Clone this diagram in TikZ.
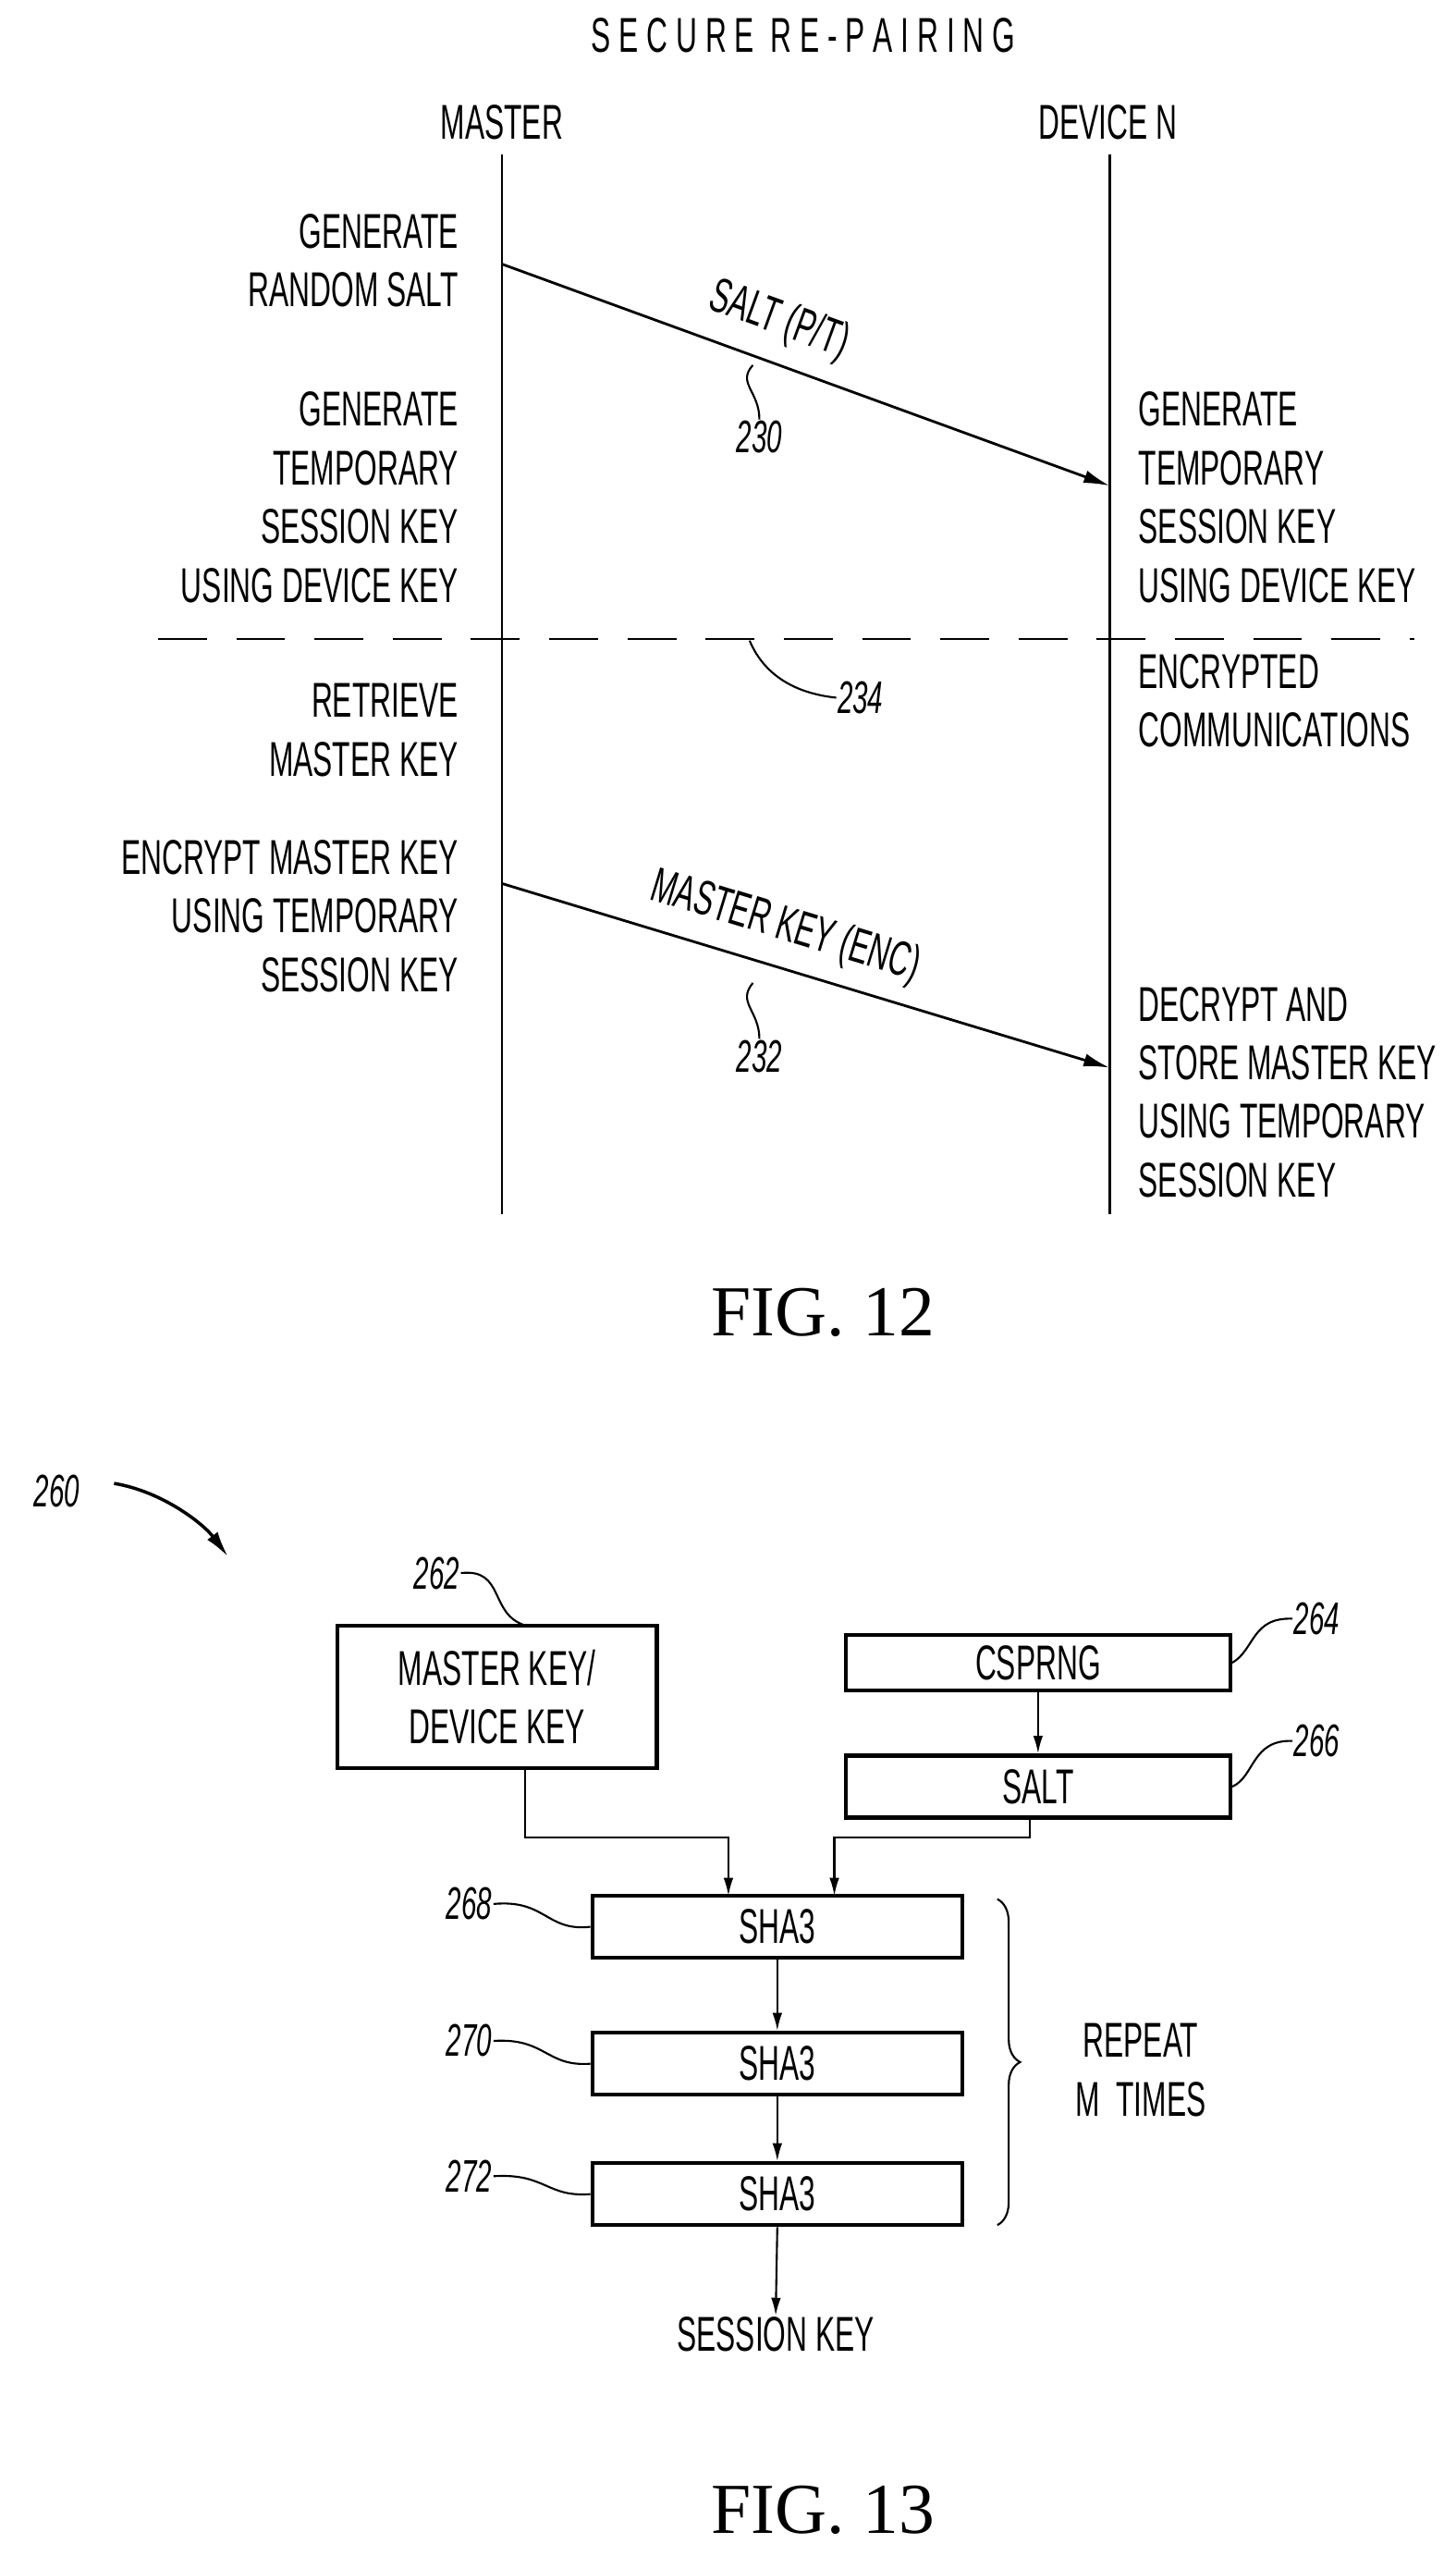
\documentclass[tikz,border=0pt]{standalone}
\usepackage{fontspec}
\setmainfont{Liberation Sans}[FakeStretch=0.6]
\newfontfamily\serif{Liberation Serif}
\usetikzlibrary{arrows.meta,decorations.pathreplacing}
\begin{document}
\begin{tikzpicture}[x=1pt,y=-1pt,line width=1.6pt,
 t/.style={font=\fontsize{30}{36}\selectfont,inner sep=0pt},
 num/.style={font=\fontsize{28}{34}\itshape\selectfont,inner sep=0pt},
 box/.style={draw,line width=2.4pt,font=\fontsize{30}{36}\selectfont,inner sep=0pt},
 arr/.style={-{Latex[length=16pt,width=8pt]}},
 sarr/.style={-{Latex[length=11pt,width=6pt]},line width=1.2pt},
 fig/.style={font=\fontsize{44}{48}\serif\selectfont}]
\useasboundingbox (0,0) rectangle (893,1568);
\node[t] (title) at (493,22) {S\,E\,C\,U\,R\,E\ \ R\,E\,-\,P\,A\,I\,R\,I\,N\,G};
\node[t] (m) at (308,75) {MASTER};
\node[t] (d) at (680,75) {DEVICE N};
\coordinate (mt) at (308,95); \coordinate (mb) at (308,745);
\coordinate (dt) at (681,95); \coordinate (db) at (681,745);
\draw (mt)--(mb); \draw (dt)--(db);
\node[t,align=right,anchor=east] (l1) at (282,160) {GENERATE\\RANDOM SALT};
\node[t,align=right,anchor=east] (l2) at (282,305) {GENERATE\\TEMPORARY\\SESSION KEY\\USING DEVICE KEY};
\node[t,align=right,anchor=east] (l3) at (282,448) {RETRIEVE\\MASTER KEY};
\node[t,align=right,anchor=east] (l4) at (282,562) {ENCRYPT MASTER KEY\\USING TEMPORARY\\SESSION KEY};
\node[t,align=left,anchor=west] (r1) at (698,305) {GENERATE\\TEMPORARY\\SESSION KEY\\USING DEVICE KEY};
\node[t,align=left,anchor=west] (r2) at (698,430) {ENCRYPTED\\COMMUNICATIONS};
\node[t,align=left,anchor=west] (r3) at (698,670) {DECRYPT AND\\STORE MASTER KEY\\USING TEMPORARY\\SESSION KEY};
\coordinate (dl) at (97,392); \coordinate (dr) at (868,392);
\draw[dash pattern=on 30pt off 18pt,line width=1.2pt] (dl)--(dr);
\coordinate (a1s) at (308,162); \coordinate (a1e) at (681,298);
\draw[arr] (a1s)--(a1e);
\node[t,rotate=-20] (s1) at (478,197) {SALT (P/T)};
\coordinate (a2s) at (308,542); \coordinate (a2e) at (681,655);
\draw[arr] (a2s)--(a2e);
\node[t,rotate=-17] (s2) at (482,569) {MASTER KEY (ENC)};
\node[num] (n230) at (466,268) {230};
\node[num] (n232) at (466,648) {232};
\node[num] (n234) at (528,428) {234};
\draw[line width=1.2pt] (462,224) .. controls (452,235) and (466,240) .. (n230.north);
\draw[line width=1.2pt] (462,603) .. controls (452,615) and (466,620) .. (n232.north);
\draw[line width=1.2pt] (460,393) .. controls (468,412) and (485,425) .. (n234.west);
\node[fig] (f12) at (505,805) {FIG. 12};
% FIG 13
\node[num] (n260) at (35,915) {260};
\draw[arr,line width=2pt] (70,910) .. controls (100,915) and (125,935) .. (140,955);
\node[box,minimum width=196pt,minimum height=87pt,align=center] (mk) at (305,1041) {MASTER KEY/\\DEVICE KEY};
\node[box,minimum width=236pt,minimum height=34pt] (cs) at (637,1020) {CSPRNG};
\node[box,minimum width=236pt,minimum height=38pt] (salt) at (637,1096) {SALT};
\node[box,minimum width=227pt,minimum height=38pt] (h1) at (477,1182) {SHA3};
\node[box,minimum width=227pt,minimum height=38pt] (h2) at (477,1266) {SHA3};
\node[box,minimum width=227pt,minimum height=38pt] (h3) at (477,1346) {SHA3};
\node[t] (sk) at (476,1432) {SESSION KEY};
\draw[sarr] (cs.south)--(salt.north);
\draw[sarr] ([xshift=17pt]mk.south) |- (447,1127) -- (447,1163);
\draw[sarr] ([xshift=-5pt]salt.south) |- (512,1127) -- (512,1163);
\draw[sarr] (h1.south)--(h2.north);
\draw[sarr] (h2.south)--(h3.north);
\draw[sarr] (h3.south)--(sk.north);
\node[num] (n262) at (268,965) {262};
\node[num] (n264) at (808,993) {264};
\node[num] (n266) at (808,1068) {266};
\node[num] (n268) at (288,1168) {268};
\node[num] (n270) at (288,1252) {270};
\node[num] (n272) at (288,1335) {272};
\draw[line width=1.2pt] (n262.east) .. controls (310,962) and (300,990) .. (322,997);
\draw[line width=1.2pt] (n264.west) .. controls (768,992) and (770,1012) .. (cs.east);
\draw[line width=1.2pt] (n266.west) .. controls (768,1067) and (770,1090) .. (salt.east);
\draw[line width=1.2pt] (n268.east) .. controls (335,1165) and (335,1185) .. (h1.west);
\draw[line width=1.2pt] (n270.east) .. controls (335,1250) and (335,1268) .. (h2.west);
\draw[line width=1.2pt] (n272.east) .. controls (335,1333) and (335,1348) .. (h3.west);
\draw[decorate,decoration={brace,amplitude=14pt},line width=1.2pt] (612,1165)--(612,1365);
\node[t,align=center] (rep) at (700,1270) {REPEAT\\M\ \ TIMES};
\node[fig] (f13) at (505,1540) {FIG. 13};
\end{tikzpicture}
\end{document}
